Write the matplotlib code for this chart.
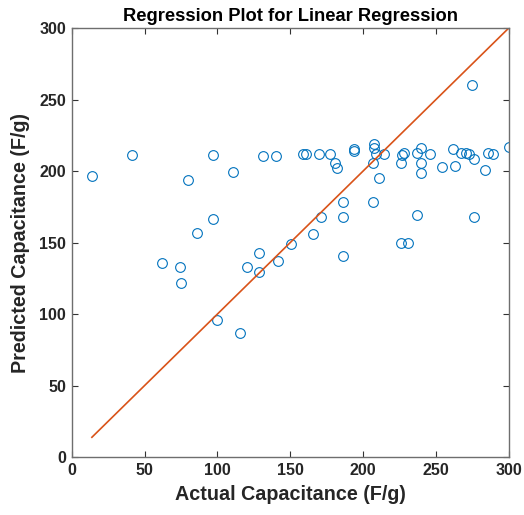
import matplotlib
matplotlib.use("Agg")
import matplotlib.pyplot as plt
import numpy as np

plt.rcParams['font.family'] = ['Liberation Sans', 'DejaVu Sans']

# values
actual = [13.8, 41, 80, 97, 97, 111, 131.5, 140, 159, 161, 170, 177, 181, 182,
          193.4, 194, 207.8, 207.2, 209, 214, 207, 210.6, 206.5, 227.8, 227,
          225.7, 239.5, 236.7, 245.7, 239.5, 240, 254, 261.5, 263, 267, 270.5,
          273, 276, 285.6, 289, 284, 300, 236.7, 276, 225.7, 230.5, 274.6,
          186, 171, 186, 165.9, 150.7, 128.7, 86, 62, 74, 75, 100, 115.6,
          120.4, 128.7, 141.8, 186.5]
predicted = [196.5, 211.5, 194, 211.5, 166.4, 199, 210.5, 210.5, 212, 212, 212,
             212, 205.6, 202, 215.5, 214, 218.9, 216, 212, 212, 205.6, 195, 178,
             212.6, 211, 205.6, 216, 212.6, 212, 205.6, 198.6, 202.8, 215.4,
             203.5, 212.6, 212.6, 212, 208.4, 212.6, 212, 200.7, 216.8, 169.5,
             168, 149.7, 149.7, 260, 178, 168, 168, 156, 148.9, 142.7, 156.6,
             135.6, 133, 122, 95.8, 86.7, 133, 129.4, 137, 140.6]

x_ticks = [0, 50, 100, 150, 200, 250, 300]
y_ticks = [0, 50, 100, 150, 200, 250, 300]

fig = plt.figure(figsize=(5.24, 5.15), dpi=100)
ax = fig.add_axes([0.137, 0.1126, 0.834, 0.833])

ax.plot(actual, predicted, linestyle='none', marker='o', markersize=7,
        markerfacecolor='none', markeredgecolor='#0072BD', markeredgewidth=0.8)

lo, hi = min(actual), max(actual)
ax.plot([lo, hi], [lo, hi], color='#D95319', linewidth=1.2)

ax.set_xlim(0, 300)
ax.set_ylim(0, 300)
ax.set_xticks(x_ticks)
ax.set_yticks(y_ticks)
ax.tick_params(direction='in', top=True, right=True, length=4, width=0.8,
               color='#333333', labelsize=11.5, pad=4)
for lbl in ax.get_xticklabels() + ax.get_yticklabels():
    lbl.set_fontweight('bold')
    lbl.set_color('#262626')
for sp in ax.spines.values():
    sp.set_color('#6e6e6e')
    sp.set_linewidth(1.0)

ax.set_xlabel('Actual Capacitance (F/g)', fontsize=14.2, fontweight='bold',
              color='#262626', labelpad=5)
ax.set_ylabel('Predicted Capacitance (F/g)', fontsize=14.2, fontweight='bold',
              color='#262626', labelpad=7)
ax.set_title('Regression Plot for Linear Regression', fontsize=13.2,
             fontweight='bold', color='#000000', pad=5)

fig.savefig('out.png', dpi=100)
